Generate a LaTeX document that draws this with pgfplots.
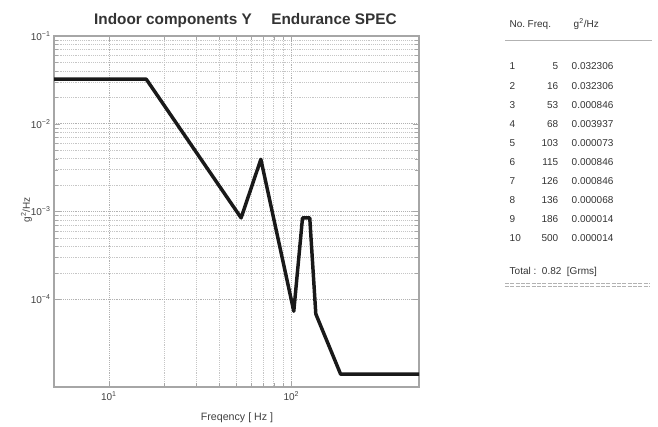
\documentclass[border=0pt]{standalone}
\usepackage{pgfplots}
\pgfplotsset{compat=1.18}
\usepackage{fontspec}
\setmainfont{Liberation Sans}
\begin{document}
\begin{tikzpicture}
% px -> pt helper scope: (px,py) of the reference image
\tikzset{ref/.style={shift={(-40.5pt,290.25pt)},x=0.75pt,y=-0.75pt}}
\begin{scope}[ref]
  \useasboundingbox (0,0) rectangle (658,423);
\end{scope}
\begin{axis}[
    xmode=log, ymode=log,
    scale only axis,
    width=273.75pt, height=263.25pt,
    xmin=5, xmax=500,
    ymin=1e-5, ymax=1e-1,
    xtick={10,100},
    xticklabels={10\textsuperscript{1},10\textsuperscript{2}},
    ytick={1e-4,1e-3,1e-2,1e-1},
    yticklabels={10\textsuperscript{−4},10\textsuperscript{−3},10\textsuperscript{−2},10\textsuperscript{−1}},
    tick label style={font=\fontsize{7.5}{9}\selectfont, text=black!75},
    yticklabel style={xshift=1pt},
    grid=both,
    major grid style={densely dotted, gray!60},
    minor grid style={densely dotted, gray!45},
    axis line style={gray!70, line width=0.8pt},
    tick style={gray!70},
    tick align=inside,
    xtick pos=both, ytick pos=both,
    clip=true,
]
\addplot[black!90, line width=2.6pt, line join=round] coordinates {
    (5,0.032306) (16,0.032306) (53,0.000846) (68,0.003937)
    (103,0.000073) (115,0.000846) (126,0.000846) (136,0.000068)
    (186,0.000014) (500,0.000014)
};
\end{axis}
\begin{scope}[ref]
  % titles and axis labels
  \node[anchor=base, font=\fontsize{11.5}{13}\bfseries, text=black!80] at (173,25) {Indoor components Y};
  \node[anchor=base, font=\fontsize{11.5}{13}\bfseries, text=black!80] at (334,25) {Endurance SPEC};
  \node[anchor=base, font=\fontsize{8}{9}\selectfont, text=black!75] at (237,420) {Freqency [ Hz ]};
  \node[rotate=90, anchor=base, font=\fontsize{7.5}{9}\selectfont, text=black!75] at (30,210) {g\textsuperscript{2}/Hz};
  % table at right
  \begin{scope}[font=\fontsize{7.5}{9}\selectfont, text=black!80]
    \node[anchor=base west] at (505,28) {No.};
    \node[anchor=base west] at (523,28) {Freq.};
    \node[anchor=base west] at (569,28) {g\textsuperscript{2}/Hz};
    \draw[gray!60, line width=0.6pt] (505,40) -- (652,40);
    \foreach \n/\f/\v [count=\i from 0] in {1/5/0.032306, 2/16/0.032306, 3/53/0.000846,
        4/68/0.003937, 5/103/0.000073, 6/115/0.000846, 7/126/0.000846,
        8/136/0.000068, 9/186/0.000014, 10/500/0.000014} {
      \node[anchor=base west] at (505,{70+19.1*\i}) {\n};
      \node[anchor=base east] at (563,{70+19.1*\i}) {\f};
      \node[anchor=base west] at (567,{70+19.1*\i}) {\v};
    }
    \node[anchor=base west] at (505,274) {Total :\ \ 0.82\ \ [Grms]};
    \draw[gray!60, line width=0.5pt, dash pattern=on 3pt off 1pt] (505,283.5) -- (650,283.5);
    \draw[gray!60, line width=0.5pt, dash pattern=on 3pt off 1pt] (505,286) -- (650,286);
  \end{scope}
\end{scope}
\end{tikzpicture}
\end{document}
